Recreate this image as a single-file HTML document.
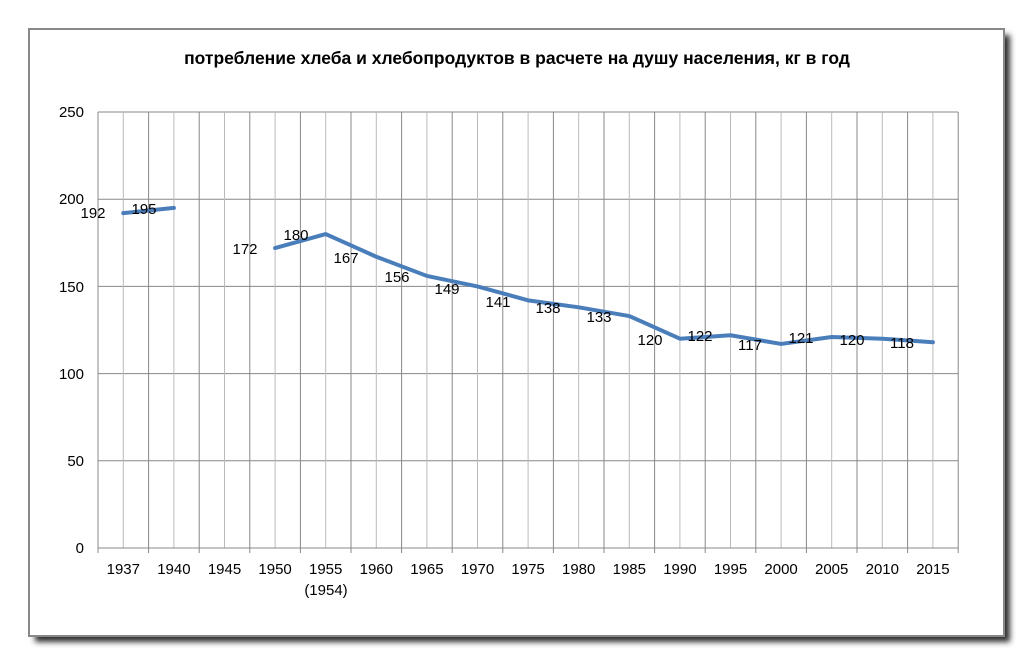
<!DOCTYPE html>
<html><head><meta charset="utf-8"><style>
body{margin:0;background:#fff;}
svg{display:block;font-family:"Liberation Sans","DejaVu Sans",sans-serif;}
</style></head><body>
<svg width="1033" height="666" xmlns="http://www.w3.org/2000/svg">
<defs><filter id="sh" x="-5%" y="-5%" width="115%" height="115%"><feGaussianBlur stdDeviation="3"/></filter></defs>
<rect x="35" y="35" width="975" height="607" fill="#333" filter="url(#sh)"/>
<rect x="29" y="29" width="975" height="607" fill="#fff" stroke="#888" stroke-width="2"/>
<text x="517" y="64" text-anchor="middle" font-size="17.5" font-weight="bold">потребление хлеба и хлебопродуктов в расчете на душу населения, кг в год</text>
<g id="grid"></g>
<g font-size="15" fill="#000">
<text x="84" y="117" text-anchor="end">250</text>
<text x="84" y="204" text-anchor="end">200</text>
<text x="84" y="292" text-anchor="end">150</text>
<text x="84" y="379" text-anchor="end">100</text>
<text x="84" y="466" text-anchor="end">50</text>
<text x="84" y="553" text-anchor="end">0</text>
</g>
<g id="xl" font-size="15" text-anchor="middle"></g>
<text x="326" y="595" font-size="15" text-anchor="middle">(1954)</text>
<g id="ln"></g>
<g font-size="15" text-anchor="middle">
<text x="93" y="218">192</text><text x="144" y="214">195</text>
<text x="245" y="254">172</text><text x="296" y="240">180</text>
<text x="346" y="263">167</text><text x="397" y="282">156</text>
<text x="447" y="294">149</text><text x="498" y="307">141</text>
<text x="548" y="313">138</text><text x="599" y="322">133</text>
<text x="650" y="345">120</text><text x="700" y="341">122</text>
<text x="750" y="350">117</text><text x="801" y="343">121</text>
<text x="852" y="345">120</text><text x="902" y="348">118</text>
</g>
<script>
var ns="http://www.w3.org/2000/svg",g=document.getElementById('grid'),xl=document.getElementById('xl'),ln=document.getElementById('ln');
function el(p,t,a){var e=document.createElementNS(ns,t);for(var k in a)e.setAttribute(k,a[k]);p.appendChild(e);return e;}
var L=98,W=50.6,T=112,B=548;
for(var v=50;v<=250;v+=50){var y=B-v*1.744;el(g,'line',{x1:L,x2:958,y1:y,y2:y,stroke:'#888','stroke-width':1});}
for(var i=0;i<=17;i++){var x=L+W*i;el(g,'line',{x1:x,x2:x,y1:T,y2:553,stroke:'#888','stroke-width':1});
 if(i<17){var c=x+W/2;el(g,'line',{x1:c,x2:c,y1:T,y2:B,stroke:'#bbb','stroke-width':1});}}
el(g,'line',{x1:L,x2:958,y1:B,y2:B,stroke:'#888','stroke-width':1});
var yrs=[1937,1940,1945,1950,1955,1960,1965,1970,1975,1980,1985,1990,1995,2000,2005,2010,2015];
yrs.forEach(function(yr,i){var t=el(xl,'text',{x:L+W*(i+.5),y:574});t.textContent=yr;});
var d=[192,195,null,172,180,167,156,150,142,138,133,120,122,117,121,120,118];
function seg(a){var p=a.map(function(i){return (L+W*(i+.5))+','+(B-d[i]*1.744);}).join(' ');
el(ln,'polyline',{points:p,fill:'none',stroke:'#4a7ebb','stroke-width':4,'stroke-linejoin':'round','stroke-linecap':'round'});}
seg([0,1]);seg([3,4,5,6,7,8,9,10,11,12,13,14,15,16]);
</script>
</svg>
</body></html>
